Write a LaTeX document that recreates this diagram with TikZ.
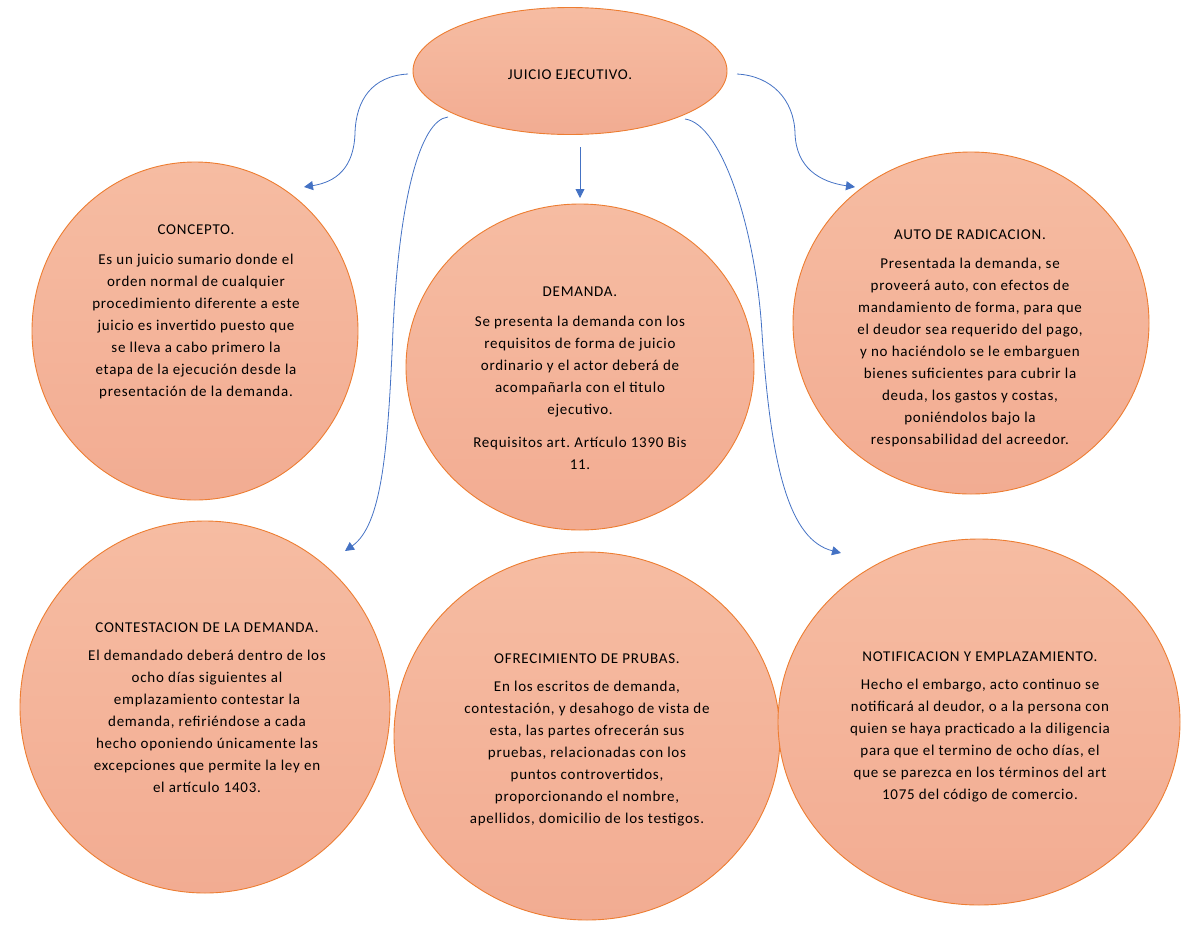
\documentclass[tikz,border=0pt]{standalone}
\usepackage{fontspec}
\setmainfont{Carlito}[LetterSpace=5]
\usetikzlibrary{shapes.geometric,arrows.meta}
\definecolor{fillTop}{RGB}{246,188,162}
\definecolor{fillBot}{RGB}{242,172,146}
\definecolor{edgeOr}{RGB}{237,125,49}
\definecolor{linkBlue}{RGB}{68,114,196}
\frenchspacing
\begin{document}
\begin{tikzpicture}[x=1pt,y=-1pt,
  bubble/.style={ellipse, draw=edgeOr, line width=0.9pt, top color=fillTop, bottom color=fillBot, inner sep=0pt},
  txt/.style={align=center, font=\fontsize{15}{22}\selectfont, text=black, inner sep=0pt},
  link/.style={draw=linkBlue, line width=0.8pt, -{Triangle[length=9pt,width=9pt]}}
]
\useasboundingbox (0,0) rectangle (1200,927);

% bubbles
\node[bubble, minimum width=314pt, minimum height=127pt] (top) at (570,71) {};
\node[bubble, minimum width=326pt, minimum height=338pt] (concepto) at (195,331) {};
\node[bubble, minimum width=348pt, minimum height=326pt] (demanda) at (580,367) {};
\node[bubble, minimum width=356pt, minimum height=342pt] (auto) at (971,323) {};
\node[bubble, minimum width=370pt, minimum height=372pt] (contest) at (205,707) {};
\node[bubble, minimum width=386pt, minimum height=368pt] (ofrec) at (587,736) {};
\node[bubble, minimum width=402pt, minimum height=366pt] (notif) at (979,722) {};

% texts
\node[txt, anchor=base] (ttop) at (570,79) {JUICIO EJECUTIVO.};

\node[txt, anchor=base] (tconcepto) at (196,234) {CONCEPTO.};
\node[txt, anchor=north] (bconcepto) at (196,254) {Es un juicio sumario donde el\\orden normal de cualquier\\procedimiento diferente a este\\juicio es invertido puesto que\\se lleva a cabo primero la\\etapa de la ejecución desde la\\presentación de la demanda.};

\node[txt, anchor=base] (tdemanda) at (580,296) {DEMANDA.};
\node[txt, anchor=north] (bdemanda) at (580,316) {Se presenta la demanda con los\\requisitos de forma de juicio\\ordinario y el actor deberá de\\acompañarla con el titulo\\ejecutivo.};
\node[txt, anchor=north] (rdemanda) at (580,437) {Requisitos art. Artículo 1390 Bis\\11.};

\node[txt, anchor=base] (tauto) at (970,239) {AUTO DE RADICACION.};
\node[txt, anchor=north] (bauto) at (970,258) {Presentada la demanda, se\\proveerá auto, con efectos de\\mandamiento de forma, para que\\el deudor sea requerido del pago,\\y no haciéndolo se le embarguen\\bienes suficientes para cubrir la\\deuda, los gastos y costas,\\poniéndolos bajo la\\responsabilidad del acreedor.};

\node[txt, anchor=base] (tcontest) at (207,632) {CONTESTACION DE LA DEMANDA.};
\node[txt, anchor=north] (bcontest) at (207,650) {El demandado deberá dentro de los\\ocho días siguientes al\\emplazamiento contestar la\\demanda, refiriéndose a cada\\hecho oponiendo únicamente las\\excepciones que permite la ley en\\el artículo 1403.};

\node[txt, anchor=base] (tofrec) at (587,663) {OFRECIMIENTO DE PRUBAS.};
\node[txt, anchor=north] (bofrec) at (587,681) {En los escritos de demanda,\\contestación, y desahogo de vista de\\esta, las partes ofrecerán sus\\pruebas, relacionadas con los\\puntos controvertidos,\\proporcionando el nombre,\\apellidos, domicilio de los testigos.};

\node[txt, anchor=base] (tnotif) at (980,661) {NOTIFICACION Y EMPLAZAMIENTO.};
\node[txt, anchor=north] (bnotif) at (980,679) {Hecho el embargo, acto continuo se\\notificará al deudor, o a la persona con\\quien se haya practicado a la diligencia\\para que el termino de ocho días, el\\que se parezca en los términos del art\\1075 del código de comercio.};

% connector end points
\coordinate (s1) at (408,74);  \coordinate (e1) at (304,187);
\coordinate (s2) at (448,117); \coordinate (e2) at (345,551);
\coordinate (s3) at (580,147); \coordinate (e3) at (580,198);
\coordinate (s4) at (685,119); \coordinate (e4) at (841,553);
\coordinate (s5) at (737,74);  \coordinate (e5) at (855,187);

\draw[link] (s1) .. controls (372,76) and (356,100) .. (355,133) .. controls (354,168) and (336,182) .. (e1);
\draw[link] (s2) .. controls (420,120) and (399,200) .. (393,330) .. controls (388,450) and (382,525) .. (e2);
\draw[link] (s3) -- (e3);
\draw[link] (s4) .. controls (722,124) and (756,230) .. (762,333) .. controls (771,470) and (790,540) .. (e4);
\draw[link] (s5) .. controls (772,76) and (794,100) .. (795,133) .. controls (796,168) and (820,182) .. (e5);
\end{tikzpicture}
\end{document}
